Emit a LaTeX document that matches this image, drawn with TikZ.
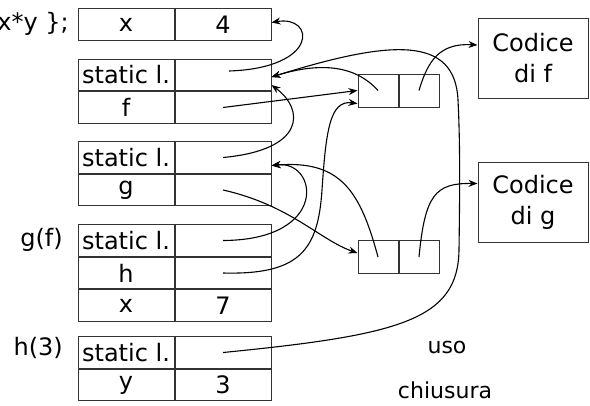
\documentclass[tikz,border=0pt]{standalone}
\usepackage{fontspec}
\setmainfont{DejaVu Sans}
\usetikzlibrary{positioning,calc,arrows.meta}

\begin{document}
\begin{tikzpicture}[x=1pt,y=-1pt,
    cella/.style={draw=black!80, line width=1pt, minimum width=96pt, minimum height=31.5pt, inner sep=0pt, font=\fontsize{24}{28}\selectfont},
    chius/.style={draw=black!80, line width=1pt, minimum width=40pt, minimum height=33pt, inner sep=0pt},
    codice/.style={draw=black!80, line width=1pt, minimum width=110pt, minimum height=80pt, align=center, font=\fontsize{24}{31}\selectfont},
    etich/.style={anchor=east, inner sep=0pt, font=\fontsize{24}{28}\selectfont},
    punt/.style={-{Stealth[length=9pt,width=7pt]}, line width=1.1pt}]
      \useasboundingbox (0,0) rectangle (590,405);

      % Environment rows
      \node[etich] (codice) at (69,24) {x*y \};};
      \node[cella] (x4l) at (126,24.5) {x};
      \node[cella, right=0pt of x4l] (x4v) {4};

      \node[cella] (fsl) at (126,75) {static l.};
      \node[cella, right=0pt of fsl] (fsv) {};
      \node[cella, below=0pt of fsl] (ffl) {f};
      \node[cella, right=0pt of ffl] (ffv) {};

      \node[cella] (gsl) at (126,157.5) {static l.};
      \node[cella, right=0pt of gsl] (gsv) {};
      \node[cella, below=0pt of gsl] (ggl) {g};
      \node[cella, right=0pt of ggl] (ggv) {};

      \node[etich] (lgf) at (63,240) {g(f)};
      \node[cella] (gfsl) at (126,240.5) {static l.};
      \node[cella, right=0pt of gfsl] (gfsv) {};
      \node[cella, below=0pt of gfsl] (ghl) {h};
      \node[cella, right=0pt of ghl] (ghv) {};
      \node[cella, below=0pt of ghl] (gxl) {x};
      \node[cella, right=0pt of gxl] (gxv) {7};

      \node[etich] (lh3) at (63,348) {h(3)};
      \node[cella] (hsl) at (126,352.5) {static l.};
      \node[cella, right=0pt of hsl] (hsv) {};
      \node[cella, below=0pt of hsl] (hyl) {y};
      \node[cella, right=0pt of hyl] (hyv) {3};

      % Closures and code
      \node[chius] (cl1a) at (378,90.5) {};
      \node[chius, right=0pt of cl1a] (cl1b) {};
      \node[chius] (cl2a) at (378,257) {};
      \node[chius, right=0pt of cl2a] (cl2b) {};

      \node[codice] (codf) at (533,58) {Codice\\di f};
      \node[codice] (codg) at (533,202.5) {Codice\\di g};

      \node[font=\fontsize{22}{26}\selectfont] (uso) at (447,347) {uso};
      \node[font=\fontsize{22}{26}\selectfont] (chiusura) at (445,390) {chiusura};

      % Pointers
      \draw[punt] ($(fsv.center)+(6,-4)$) .. controls (320,68) and (315,15) .. ($(x4v.east)+(0,-2)$);
      \draw[punt] (gsv.center) .. controls (305,150) and (305,110) .. ($(fsv.east)+(0,10)$);
      \draw[punt] (ffv.center) -- (cl1a.west);
      \draw[punt] (cl1a.center) .. controls (355,65) and (320,62) .. ($(fsv.east)+(0,2)$);
      \draw[punt] (hsv.center) .. controls (400,335) and (458,320) .. (459,250)
          .. controls (460,180) and (460,140) .. (458,100)
          .. controls (455,35) and (390,40) .. ($(fsv.east)+(0,2)$);
      \draw[punt] (ggv.center) .. controls (290,205) and (320,240) .. ($(cl2a.west)+(0,-4)$);
      \draw[punt] (cl2a.center) .. controls (360,190) and (340,160) .. ($(gsv.east)+(0,8)$);
      \draw[punt] (gfsv.center) .. controls (330,240) and (318,160) .. ($(gsv.east)+(0,8)$);
      \draw[punt] (ghv.center) .. controls (300,275) and (318,250) .. (322,190)
          .. controls (326,130) and (330,100) .. ($(cl1a.south west)+(0,-4)$);
      \draw[punt] (cl1b.center) .. controls (428,60) and (440,43) .. ($(codf.west)+(0,-13)$);
      \draw[punt] (cl2b.center) .. controls (425,195) and (435,183) .. ($(codg.west)+(0,-19)$);
\end{tikzpicture}
\end{document}
